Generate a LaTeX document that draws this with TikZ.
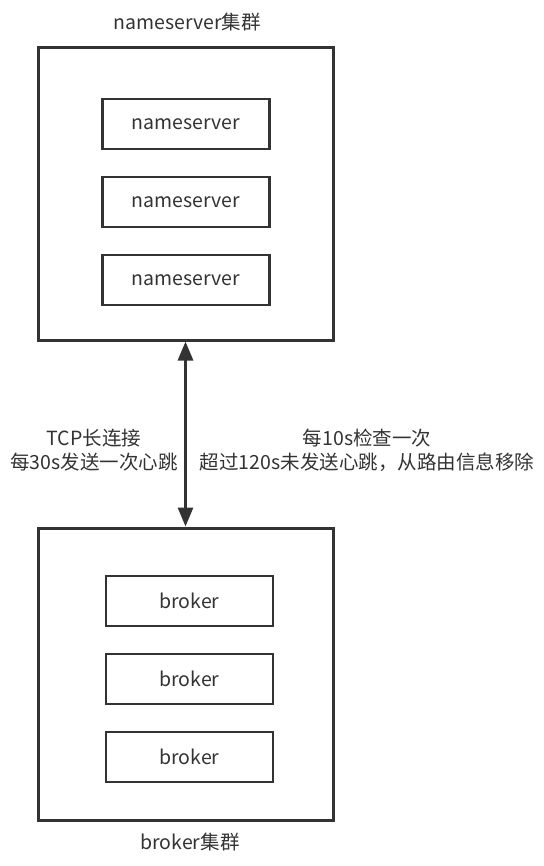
\documentclass[tikz,border=0pt]{standalone}
\usepackage{fontspec}
\setmainfont{Noto Sans CJK SC}
\usepackage{tikz}
\usetikzlibrary{positioning,arrows.meta}
\definecolor{darkline}{HTML}{333333}

\begin{document}
\begin{tikzpicture}[x=1pt, y=-1pt,
node distance={25.4pt}, line width=3pt, darkline, text=darkline,
clusterbox/.style={draw=darkline, line width=3pt, minimum width=295pt, minimum height=292pt},
memberbox/.style={draw=darkline, line width=2.6pt, minimum width=167pt, minimum height=50pt, inner sep=0pt},
every node/.append style={font=\fontsize{19.5}{24}\selectfont}]
\useasboundingbox (0,0) rectangle (543,866);
\node[clusterbox] (nscluster) at (185.5,194) {};
\node (nstitle) at (187,22) {nameserver集群};
\node[memberbox] (ns1) at (186,124) {nameserver};
\node[memberbox] (ns2) [below=of ns1] {nameserver};
\node[memberbox] (ns3) [below=of ns2] {nameserver};
\node[clusterbox] (brcluster) at (185.5,674) {};
\node (brtitle) at (190,842) {broker集群};
\node[memberbox] (br1) at (189.5,601) {broker};
\node[memberbox] (br2) [below=of br1] {broker};
\node[memberbox] (br3) [below=of br2] {broker};
\node[align=center] (tcp) at (94,450) {TCP长连接\\每30s发送一次心跳};
\node[align=center] (check) at (367,450) {每10s检查一次\\超过120s未发送心跳，从路由信息移除};
\draw[{Triangle[length=19pt,width=15pt]}-{Triangle[length=19pt,width=15pt]}] (nscluster.south) -- (brcluster.north);
\end{tikzpicture}
\end{document}
